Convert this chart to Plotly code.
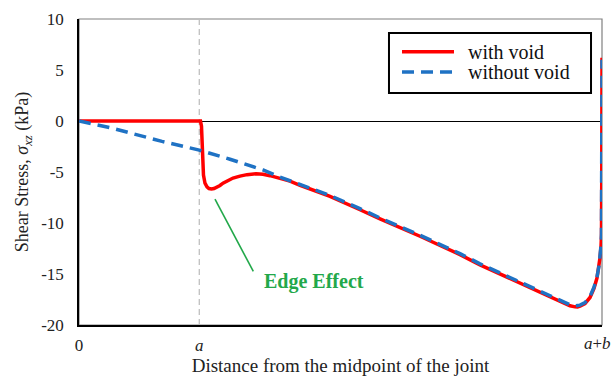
import plotly.graph_objects as go

# x in units where a+b = 1 (x = 0 at joint midpoint)
A_POS = 0.2300
x_ticks = [0, A_POS]
x_tick_labels = ["0", "<i>a</i>"]
y_ticks = [-20, -15, -10, -5, 0, 5, 10]
y_tick_labels = ["-20", "-15", "-10", "-5", "0", "5", "10"]

with_void_x = [0, 0.2323, 0.2342, 0.2358, 0.2367, 0.2380, 0.2409, 0.2447, 0.2486, 0.2533,
               0.2581, 0.2639, 0.2696, 0.2753, 0.2849, 0.2945, 0.3078, 0.3212, 0.3384, 0.3518,
               0.3652, 0.3843, 0.4034, 0.4226, 0.4799, 0.5373, 0.5755, 0.652,
               0.7285, 0.7667, 0.805, 0.8432, 0.8815, 0.9101, 0.9197, 0.9293, 0.9388, 0.9484,
               0.9532, 0.958, 0.9675, 0.9771, 0.9847, 0.9904, 0.9943, 0.9962, 0.9981, 0.9990,
               0.9995, 1.0]
with_void_y = [0, 0, -0.5, -2.0, -4.0, -5.3, -6.1, -6.45, -6.62, -6.67,
               -6.62, -6.5, -6.32, -6.1, -5.8, -5.59, -5.4, -5.26, -5.17, -5.22,
               -5.36, -5.59, -5.9, -6.3, -7.4, -8.7, -9.6, -11.3,
               -13.1, -14.1, -15.0, -15.85, -16.75, -17.45, -17.7, -17.95, -18.12, -18.22,
               -18.23, -18.15, -17.9, -17.3, -16.4, -15.4, -14.3, -13.4, -12.3, -11.2,
               -6.0, 6.2]

without_void_x = [0, 0.0631, 0.1587, 0.2300, 0.2887, 0.3518, 0.3843, 0.4226, 0.4799,
                  0.5373, 0.5755, 0.652, 0.7285, 0.7667, 0.805, 0.8432, 0.8815, 0.9101,
                  0.9197, 0.9293, 0.9388, 0.9484, 0.9532, 0.958, 0.9675, 0.9771, 0.9847,
                  0.9904, 0.9943, 0.9962, 0.9981, 0.9990, 0.9995, 1.0]
without_void_y = [0, -0.7, -2.0, -2.85, -3.75, -4.8, -5.5, -6.2, -7.3,
                  -8.6, -9.5, -11.2, -13.0, -14.0, -14.9, -15.75, -16.65, -17.35,
                  -17.6, -17.85, -18.02, -18.12, -18.12, -18.05, -17.8, -17.2, -16.3,
                  -15.3, -14.2, -13.3, -12.2, -11.0, -6.0, 6.0]

SERIF = "Liberation Serif"
RED = "#FF0000"
BLUE = "#1F72C4"
GREEN = "#22A84A"
TXT = "#222222"

fig = go.Figure()
fig.add_trace(go.Scatter(x=with_void_x, y=with_void_y, mode="lines", name="with void",
                         line=dict(color=RED, width=3.5), showlegend=False))
fig.add_trace(go.Scatter(x=without_void_x, y=without_void_y, mode="lines", name="without void",
                         line=dict(color=BLUE, width=3.5, dash="12px,7px"), showlegend=False))

fig.update_layout(
    width=616, height=381,
    margin=dict(l=79, r=14, t=19, b=56),
    paper_bgcolor="white", plot_bgcolor="white",
    font=dict(family=SERIF, size=16, color=TXT),
    showlegend=False,
    xaxis=dict(range=[0, 1], tickvals=x_ticks, ticktext=x_tick_labels, automargin=False,
               showgrid=False, zeroline=False, showline=True, linecolor="black", linewidth=1.5,
               ticks="", ticklabelstandoff=4, tickfont=dict(family=SERIF, size=17, color=TXT),
               title=dict(text="Distance from the midpoint of the joint", standoff=0,
                          font=dict(family=SERIF, size=19, color=TXT))),
    yaxis=dict(range=[-20, 10], tickvals=y_ticks, ticktext=y_tick_labels, automargin=False,
               showgrid=False, zeroline=True, zerolinecolor="black", zerolinewidth=1.3,
               showline=True, linecolor="black", linewidth=1.5, ticks="",
               ticklabelstandoff=10, tickfont=dict(family=SERIF, size=17, color=TXT),
               title=dict(text="Shear Stress, <i>σ<sub>xz</sub></i> (kPa)", standoff=8,
                          font=dict(family=SERIF, size=18, color=TXT))),
)

# plot border (top/right lighter)
fig.add_shape(type="rect", xref="paper", yref="paper", x0=0, y0=0, x1=1, y1=1,
              line=dict(color="#808080", width=1.2), layer="below")
# vertical dashed line at a
fig.add_shape(type="line", xref="x", yref="y", x0=A_POS, x1=A_POS, y0=-20, y1=10,
              line=dict(color="#C0C0C0", width=1.3, dash="6px,4px"), layer="below")
# Edge effect pointer
fig.add_shape(type="line", xref="x", yref="y", x0=0.26, y0=-7.65, x1=0.3333, y1=-14.75,
              line=dict(color=GREEN, width=1.6))
fig.add_annotation(x=0.4495, y=-15.73, xref="x", yref="y", text="<b>Edge Effect</b>",
                   showarrow=False, font=dict(family=SERIF, size=20, color=GREEN))
# a+b tick label
fig.add_annotation(x=1, y=0, xref="x", yref="paper", text="<i>a</i>+<i>b</i>",
                   showarrow=False, yanchor="top", yshift=-7, xshift=-5,
                   font=dict(family=SERIF, size=17, color=TXT))

# Legend (drawn manually to match the original's box and sample lengths)
legend_names = ["with void", "without void"]
legend_colors = [RED, BLUE]
legend_dash = ["solid", "12px,7px"]
legend_rows_y = [0.8931, 0.8268]
fig.add_shape(type="rect", xref="paper", yref="paper", x0=0.5927, x1=0.979, y0=0.7582, y1=0.9542,
              line=dict(color="black", width=2), fillcolor="white")
for name, col, dsh, yy in zip(legend_names, legend_colors, legend_dash, legend_rows_y):
    fig.add_shape(type="line", xref="paper", yref="paper", x0=0.6176, x1=0.717, y0=yy, y1=yy,
                  line=dict(color=col, width=3.5, dash=dsh))
    fig.add_annotation(x=0.74, y=yy, xref="paper", yref="paper", text=name, showarrow=False,
                       xanchor="left", yanchor="middle", font=dict(family=SERIF, size=20, color="#111"))

fig.write_html("out.html", config={"displayModeBar": False},
               post_script="document.body.style.margin='0';document.body.style.overflow='hidden';")
